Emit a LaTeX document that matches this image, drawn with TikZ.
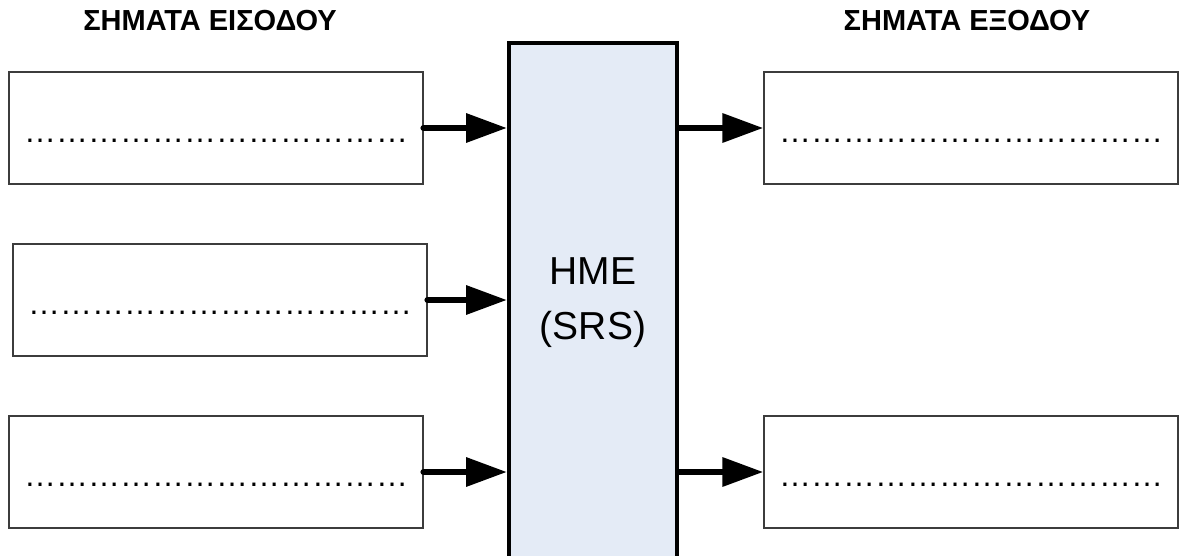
\documentclass[tikz,border=0pt]{standalone}
\usepackage{fontspec}
\setmainfont{Liberation Sans}
\usetikzlibrary{arrows.meta,calc}
\definecolor{srsfill}{RGB}{228,235,246}
\definecolor{boxedge}{RGB}{60,60,60}
\begin{document}
\begin{tikzpicture}[x=1pt,y=-1pt,
  sigbox/.style={draw=boxedge, line width=1.3pt, minimum width=414pt, minimum height=112pt, inner sep=0pt, fill=white},
  dotline/.style={font=\fontsize{32}{32}\selectfont, inner sep=0pt, anchor=base},
  title/.style={font=\bfseries\fontsize{29}{29}\selectfont, inner sep=0pt},
  sig/.style={line width=6.5pt, line cap=round, -{Triangle[length=41pt,width=28pt]}}]
\useasboundingbox (0,0) rectangle (1182,556);
% titles
\node[title] (tin) at (210,21) {ΣΗΜΑΤΑ ΕΙΣΟΔΟΥ};
\node[title] (tout) at (967,21) {ΣΗΜΑΤΑ ΕΞΟΔΟΥ};
% central block
\node[draw=black, line width=4pt, fill=srsfill, minimum width=168pt, minimum height=540pt, inner sep=0pt, anchor=north] (srs) at (593,41) {};
\node[align=center, font=\fontsize{39}{55}\selectfont, inner sep=0pt] (lbl) at (593,303) {HME\\(SRS)};
% input boxes
\node[sigbox] (i1) at (216,128) {};
\node[sigbox] (i2) at (220,300) {};
\node[sigbox] (i3) at (216,472) {};
% output boxes
\node[sigbox] (o1) at (971,128) {};
\node[sigbox] (o2) at (971,472) {};
% dotted placeholders
\foreach \b in {i1,i2,i3,o1,o2}{
  \node[dotline] (d\b) at ($(\b.center)+(0,14.5)$) {\char"2026\char"2026\char"2026\char"2026\char"2026\char"2026\char"2026\char"2026\char"2026\char"2026\char"2026\char"2026};
}
% connectors
\draw[sig] (i1.east) -- (i1.east -| srs.west);
\draw[sig] (i2.east) -- (i2.east -| srs.west);
\draw[sig] (i3.east) -- (i3.east -| srs.west);
\draw[sig] (o1.west -| srs.east) -- (o1.west);
\draw[sig] (o2.west -| srs.east) -- (o2.west);
\end{tikzpicture}
\end{document}
